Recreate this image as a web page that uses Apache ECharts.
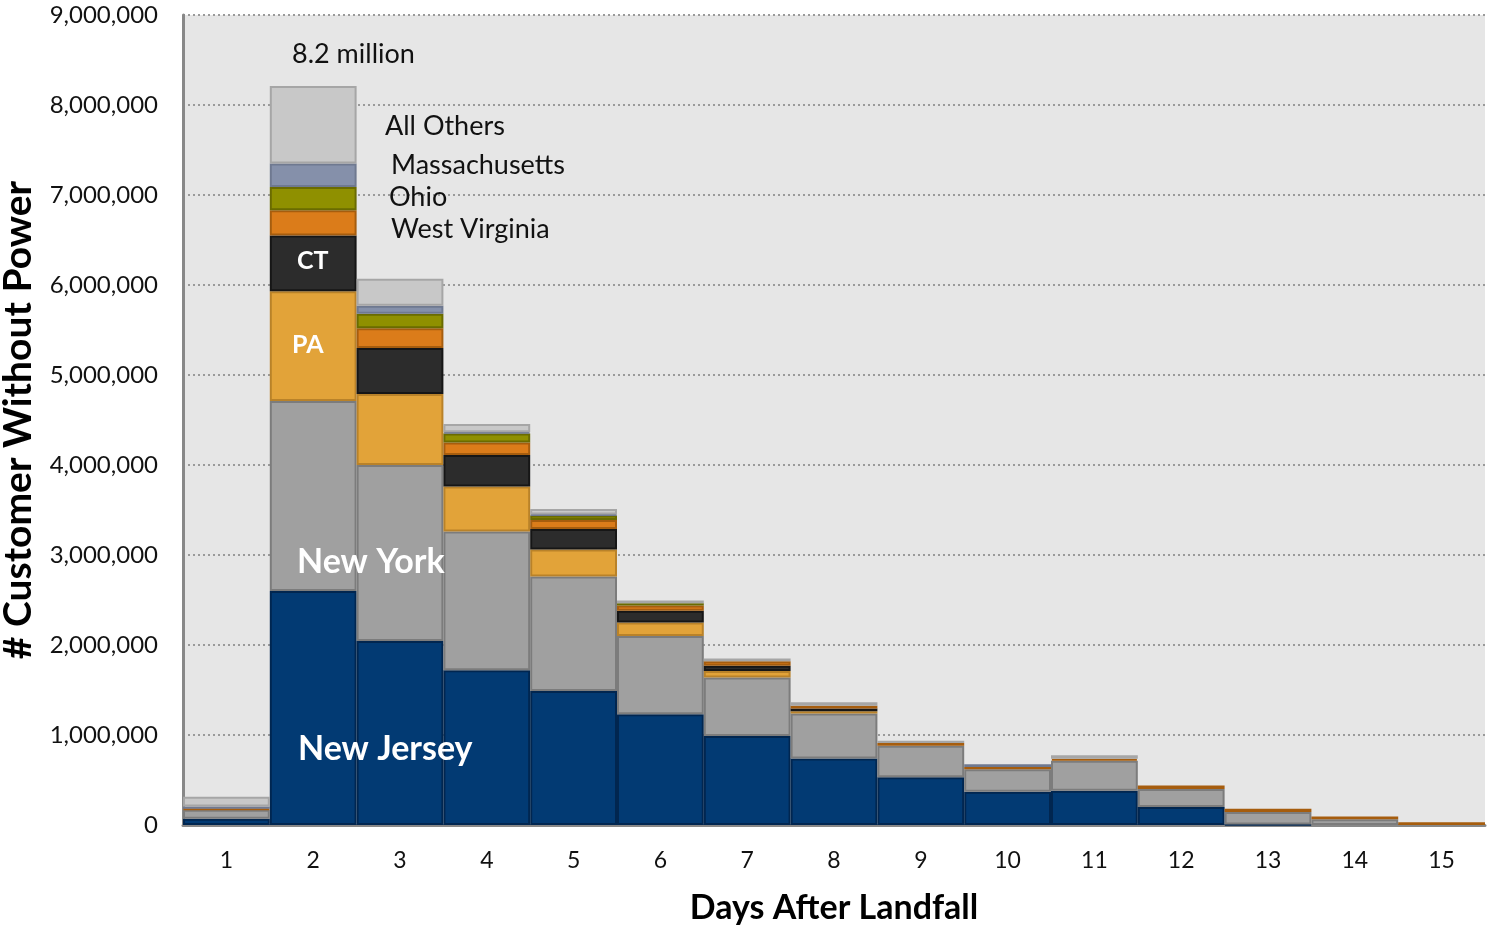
<!DOCTYPE html>
<html>
<head>
<meta charset="utf-8">
<script src="https://cdn.jsdelivr.net/npm/echarts@6/dist/echarts.min.js"></script>
<style>
html,body{margin:0;padding:0;background:#ffffff;}
#chart{width:1487px;height:927px;}
</style>
</head>
<body>
<div id="chart"></div>
<script>
const days = ['1','2','3','4','5','6','7','8','9','10','11','12','13','14','15'];
const yTicks = [0,1000000,2000000,3000000,4000000,5000000,6000000,7000000,8000000,9000000];
const newJersey     = [70000, 2600000, 2045000, 1720000, 1490000, 1230000, 990000, 740000, 530000, 370000, 380000, 200000, 5000, 0, 0];
const newYork       = [100000, 2110000, 1955000, 1540000, 1270000, 870000, 650000, 500000, 350000, 250000, 335000, 200000, 140000, 65000, 0];
const pennsylvania  = [0, 1220000, 790000, 500000, 300000, 150000, 70000, 25000, 0, 0, 0, 0, 0, 0, 0];
const connecticut   = [0, 620000, 510000, 350000, 230000, 130000, 60000, 30000, 0, 0, 0, 0, 0, 0, 0];
const westVirginia  = [10000, 280000, 220000, 140000, 100000, 60000, 50000, 30000, 30000, 25000, 20000, 40000, 35000, 30000, 30000];
const ohio          = [0, 260000, 160000, 100000, 50000, 25000, 0, 0, 0, 0, 0, 0, 0, 0, 0];
const massachusetts = [25000, 260000, 90000, 15000, 10000, 0, 0, 0, 0, 30000, 0, 0, 0, 0, 0];
const allOthers     = [110000, 860000, 300000, 90000, 60000, 30000, 30000, 40000, 25000, 0, 40000, 0, 0, 0, 0];

const seriesDefs = [
  {name:'New Jersey', data:newJersey, color:'#023A73', border:'#012650'},
  {name:'New York', data:newYork, color:'#A0A0A0', border:'#7C7C7C'},
  {name:'PA', data:pennsylvania, color:'#E2A339', border:'#B98229'},
  {name:'CT', data:connecticut, color:'#2C2C2C', border:'#161616'},
  {name:'West Virginia', data:westVirginia, color:'#DB7C1A', border:'#A65D0E'},
  {name:'Ohio', data:ohio, color:'#8F9000', border:'#6A6B00'},
  {name:'Massachusetts', data:massachusetts, color:'#8590AA', border:'#6F7990'},
  {name:'All Others', data:allOthers, color:'#C8C8C8', border:'#A6A6A6'}
];

const FONT = 'Lato, "Open Sans", sans-serif';
const chart = echarts.init(document.getElementById('chart'));

function fmt(v){ return v.toString().replace(/\B(?=(\d{3})+(?!\d))/g, ','); }

const option = {
  animation:false,
  backgroundColor:'#ffffff',
  grid:{left:183, right:2, top:15, bottom:102, show:true, backgroundColor:'#E6E6E6', borderWidth:0,
        containLabel:false, outerBoundsMode:'none'},
  xAxis:{
    type:'category', data:days,
    axisLine:{show:true, lineStyle:{color:'#888888', width:3}},
    axisTick:{show:false},
    axisLabel:{color:'#111', fontSize:23, fontFamily:FONT, margin:24},
    name:'Days After Landfall', nameLocation:'middle', nameGap:66,
    nameTextStyle:{color:'#000', fontSize:34, fontWeight:'bold', fontFamily:FONT}
  },
  yAxis:{
    type:'value', min:yTicks[0], max:yTicks[yTicks.length-1], interval:yTicks[1]-yTicks[0],
    axisLine:{show:true, lineStyle:{color:'#888888', width:3}},
    axisTick:{show:false},
    axisLabel:{color:'#111', fontSize:24, fontFamily:FONT, margin:25, formatter:fmt},
    splitLine:{show:true, lineStyle:{color:'#9A9A9A', width:2, type:[2,3]}},
    name:'# Customer Without Power', nameLocation:'middle', nameGap:145, nameRotate:90,
    nameTextStyle:{color:'#000', fontSize:39, fontWeight:'bold', fontFamily:FONT}
  },
  series: seriesDefs.map(s => ({
    name:s.name, type:'bar', stack:'total', barCategoryGap:'0%',
    data:s.data.map(v => v === 0 ? '-' : v),
    itemStyle:{color:s.color, borderColor:s.border, borderWidth:2},
    emphasis:{disabled:true}
  })),
  graphic:{elements:[
    {type:'text', z:100, left:292, top:41, style:{text:'8.2 million', font:'27px '+FONT, fill:'#111'}},
    {type:'text', z:100, left:385, top:113, style:{text:'All Others', font:'27px '+FONT, fill:'#111'}},
    {type:'text', z:100, left:391, top:152, style:{text:'Massachusetts', font:'27px '+FONT, fill:'#111'}},
    {type:'text', z:100, left:389, top:184, style:{text:'Ohio', font:'27px '+FONT, fill:'#111'}},
    {type:'text', z:100, left:391, top:216, style:{text:'West Virginia', font:'27px '+FONT, fill:'#111'}},
    {type:'text', z:100, left:297, top:248, style:{text:'CT', font:'bold 25px '+FONT, fill:'#ffffff'}},
    {type:'text', z:100, left:292, top:332, style:{text:'PA', font:'bold 25px '+FONT, fill:'#ffffff'}},
    {type:'text', z:100, left:297, top:545, style:{text:'New York', font:'bold 34px '+FONT, fill:'#ffffff'}},
    {type:'text', z:100, left:298, top:732, style:{text:'New Jersey', font:'bold 34px '+FONT, fill:'#ffffff'}}
  ]}
};
chart.setOption(option);
</script>
</body>
</html>
